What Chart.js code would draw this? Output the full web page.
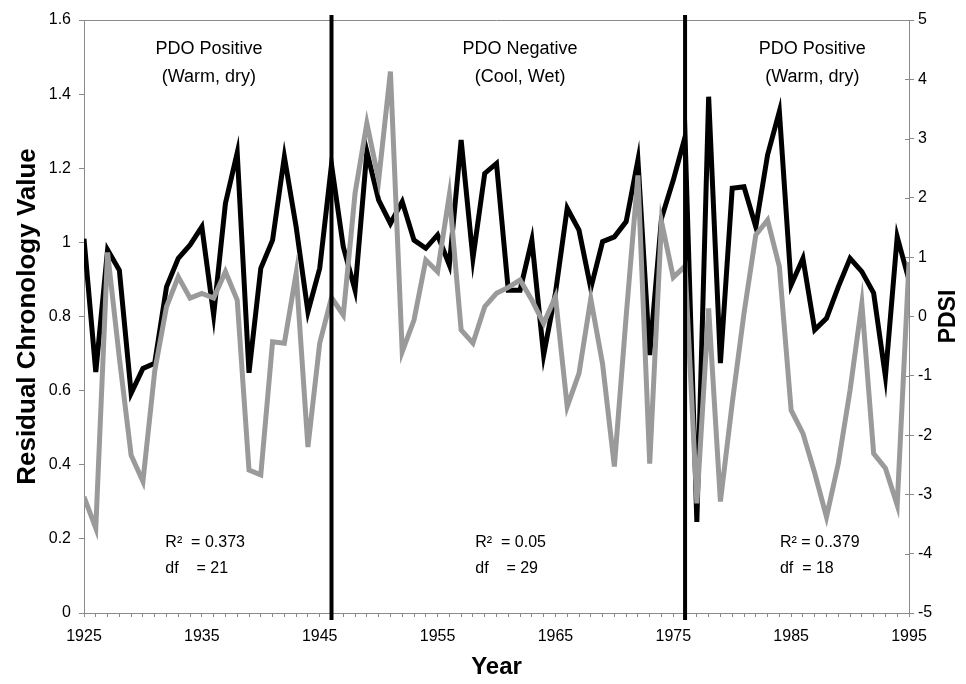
<!DOCTYPE html>
<html>
<head>
<meta charset="utf-8">
<script src="https://cdn.jsdelivr.net/npm/chart.js@4.4.1/dist/chart.umd.min.js"></script>
<style>
  html, body { margin: 0; padding: 0; background: #fff; }
  #wrap { width: 966px; height: 684px; }
</style>
</head>
<body>
<div id="wrap"><canvas id="c" width="966" height="684"></canvas></div>
<script>
// ---- DATA ----
const years = [];
for (let y = 1925; y <= 1995; y++) years.push(y);

const chronology = [
  1.01, 0.65, 0.98, 0.925, 0.593, 0.66, 0.674, 0.88, 0.957, 0.993,
  1.042, 0.804, 1.105, 1.242, 0.648, 0.93, 1.006, 1.231, 1.042, 0.813,
  0.93, 1.21, 0.988, 0.871, 1.245, 1.114, 1.051, 1.11, 1.006, 0.984,
  1.02, 0.939, 1.276, 0.957, 1.186, 1.213, 0.871, 0.871, 1.006, 0.696,
  0.863, 1.092, 1.033, 0.876, 1.002, 1.015, 1.056, 1.222, 0.696, 1.065,
  1.168, 1.285, 0.246, 1.393, 0.674, 1.146, 1.15, 1.042, 1.236, 1.353,
  0.885, 0.957, 0.764, 0.795, 0.88, 0.957, 0.921, 0.863, 0.638, 1.015,
  0.898
];

const pdsi = [
  -3.04, -3.57, 1.08, -0.7, -2.34, -2.78, -0.92, 0.165, 0.67, 0.31,
  0.39, 0.31, 0.756, 0.278, -2.59, -2.67, -0.425, -0.45, 0.728, -2.2,
  -0.45, 0.32, 0.025, 2.08, 3.26, 2.3, 4.13, -0.594, -0.06, 0.953,
  0.756, 2.05, -0.228, -0.45, 0.165, 0.39, 0.49, 0.615, 0.278, -0.115,
  0.334, -1.52, -0.96, 0.3, -0.8, -2.53, 0.0, 2.38, -2.48, 1.6,
  0.66, 0.85, -3.15, 0.138, -3.12, -1.46, 0.054, 1.374, 1.627, 0.84,
  -1.58, -1.97, -2.64, -3.38, -2.48, -1.24, 0.222, -2.31, -2.56, -3.18,
  0.92
];

const xTickLabels = ['1925', '1935', '1945', '1955', '1965', '1975', '1985', '1995'];
const leftTickLabels = ['0', '0.2', '0.4', '0.6', '0.8', '1', '1.2', '1.4', '1.6'];
const rightTickLabels = ['-5', '-4', '-3', '-2', '-1', '0', '1', '2', '3', '4', '5'];

const regimeShifts = [1946, 1976];
const regimeLabels = [
  ['PDO Positive', '(Warm, dry)'],
  ['PDO Negative', '(Cool, Wet)'],
  ['PDO Positive', '(Warm, dry)']
];
const statsLabels = [
  ['R\u00B2  = 0.373', 'df    = 21'],
  ['R\u00B2  = 0.05', 'df    = 29'],
  ['R\u00B2 = 0..379', 'df  = 18']
];

// ---- CHART ----
const FONT = "'Liberation Sans', Arial, sans-serif";
const AXIS_GRAY = '#8a8a8a';

const overlay = {
  id: 'overlay',
  beforeDatasetsDraw(chart) {
    const ctx = chart.ctx, a = chart.chartArea;
    ctx.save();
    ctx.strokeStyle = AXIS_GRAY;
    ctx.lineWidth = 1;
    ctx.beginPath();
    ctx.moveTo(a.left, a.top + 0.5);
    ctx.lineTo(a.right, a.top + 0.5);
    ctx.stroke();
    // inner part of right-axis ticks
    const y2 = chart.scales.y2;
    y2.ticks.forEach(t => {
      const py = Math.round(y2.getPixelForValue(t.value)) + 0.5;
      ctx.beginPath();
      ctx.moveTo(a.right - 4, py);
      ctx.lineTo(a.right, py);
      ctx.stroke();
    });
    ctx.restore();
  },
  afterDatasetsDraw(chart) {
    const ctx = chart.ctx, a = chart.chartArea;
    const xs = chart.scales.x, ys = chart.scales.y;
    ctx.save();
    ctx.strokeStyle = '#000';
    ctx.lineWidth = 4;
    regimeShifts.forEach(yr => {
      const px = xs.getPixelForValue(yr);
      ctx.beginPath();
      ctx.moveTo(px, a.top - 5);
      ctx.lineTo(px, a.bottom + 7);
      ctx.stroke();
    });
    // regime labels
    ctx.fillStyle = '#000';
    ctx.textAlign = 'center';
    ctx.textBaseline = 'middle';
    ctx.font = '18px ' + FONT;
    const labelX = [1935.6, 1962.0, 1986.8];
    regimeLabels.forEach((lines, i) => {
      const px = xs.getPixelForValue(labelX[i]);
      ctx.fillText(lines[0], px, ys.getPixelForValue(1.522));
      ctx.fillText(lines[1], px, ys.getPixelForValue(1.447));
    });
    // statistics
    ctx.textAlign = 'left';
    ctx.font = '16px ' + FONT;
    const statX = [1931.9, 1958.2, 1984.05];
    statsLabels.forEach((lines, i) => {
      const px = xs.getPixelForValue(statX[i]);
      ctx.fillText(lines[0], px, ys.getPixelForValue(0.19));
      ctx.fillText(lines[1], px, ys.getPixelForValue(0.12));
    });
    // right axis title (reads bottom-to-top)
    ctx.font = 'bold 23px ' + FONT;
    ctx.textAlign = 'center';
    ctx.translate(949, (a.top + a.bottom) / 2);
    ctx.rotate(-Math.PI / 2);
    ctx.fillText('PDSI', 0, 0);
    ctx.restore();
  }
};

new Chart(document.getElementById('c'), {
  type: 'line',
  data: {
    datasets: [
      {
        label: 'PDSI',
        data: years.map((y, i) => ({ x: y, y: pdsi[i] })),
        yAxisID: 'y2',
        borderColor: '#9a9a9a',
        borderWidth: 5,
        pointRadius: 0,
        tension: 0,
        order: 0
      },
      {
        label: 'Residual Chronology',
        data: years.map((y, i) => ({ x: y, y: chronology[i] })),
        yAxisID: 'y',
        borderColor: '#000',
        borderWidth: 5,
        pointRadius: 0,
        tension: 0,
        order: 1
      }
    ]
  },
  options: {
    responsive: false,
    animation: false,
    devicePixelRatio: 1,
    layout: { padding: { top: 20, right: 0, left: 0, bottom: 0 } },
    plugins: { legend: { display: false }, tooltip: { enabled: false } },
    scales: {
      x: {
        type: 'linear',
        position: 'bottom',
        min: 1925, max: 1995,
        afterFit: s => { s.height = 71; },
        border: { display: true, color: AXIS_GRAY, width: 1 },
        grid: { display: true, drawOnChartArea: false, drawTicks: true, tickLength: 4, color: AXIS_GRAY },
        ticks: {
          stepSize: 1, autoSkip: false, maxTicksLimit: 200, maxRotation: 0,
          padding: 10, color: '#000', font: { family: FONT, size: 16 },
          callback: v => { const s = String(v); return xTickLabels.includes(s) ? s : ''; }
        },
        title: { display: true, text: 'Year', color: '#000', font: { family: FONT, size: 24, weight: 'bold' }, padding: { top: 4, bottom: 2 } }
      },
      y: {
        type: 'linear',
        position: 'left',
        min: 0, max: 1.6,
        afterFit: s => { s.width = 84; },
        border: { display: true, color: AXIS_GRAY, width: 1 },
        grid: { display: true, drawOnChartArea: false, drawTicks: true, tickLength: 5, color: AXIS_GRAY },
        ticks: {
          stepSize: 0.2, padding: 8, color: '#000', font: { family: FONT, size: 16 },
          callback: (v, i) => leftTickLabels[i]
        },
        title: { display: true, text: 'Residual Chronology Value', color: '#000', font: { family: FONT, size: 26, weight: 'bold' }, padding: { top: 12, bottom: 0 } }
      },
      y2: {
        type: 'linear',
        position: 'right',
        min: -5, max: 5,
        afterFit: s => { s.width = 57; },
        border: { display: true, color: AXIS_GRAY, width: 1 },
        grid: { display: true, drawOnChartArea: false, drawTicks: true, tickLength: 5, color: AXIS_GRAY },
        ticks: {
          stepSize: 1, padding: 4, color: '#000', font: { family: FONT, size: 16 },
          callback: (v, i) => rightTickLabels[i]
        },
        title: { display: false }
      }
    }
  },
  plugins: [overlay]
});
</script>
</body>
</html>
